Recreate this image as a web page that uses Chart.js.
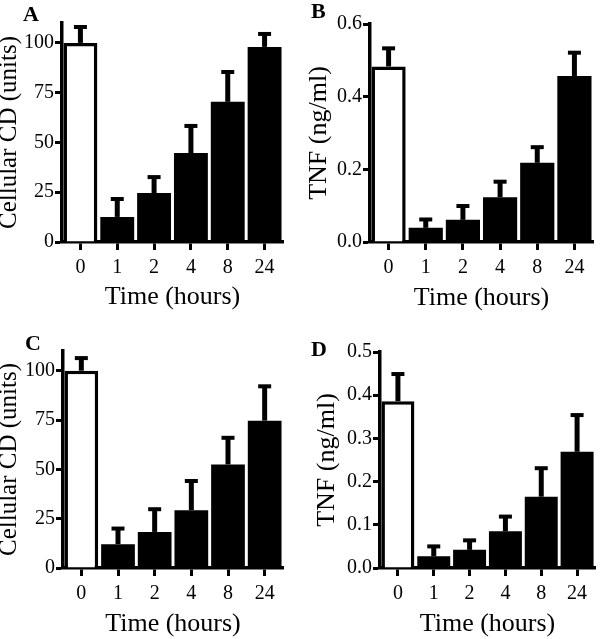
<!DOCTYPE html>
<html>
<head>
<meta charset="utf-8">
<script src="https://cdn.jsdelivr.net/npm/chart.js@4.4.0/dist/chart.umd.min.js"></script>
<style>
  body { margin: 0; background: #fff; }
  .panel { position: absolute; }
  .letter { position: absolute; font-family: 'Liberation Serif', serif; font-weight: bold; font-size: 22px; line-height: 1; color: #000; }
</style>
</head>
<body>
<div class="panel" style="left:0;top:0;width:300px;height:320px"><canvas id="chartA"></canvas></div>
<div class="panel" style="left:300px;top:0;width:300px;height:320px"><canvas id="chartB"></canvas></div>
<div class="panel" style="left:0;top:320px;width:300px;height:319px"><canvas id="chartC"></canvas></div>
<div class="panel" style="left:300px;top:320px;width:300px;height:319px"><canvas id="chartD"></canvas></div>
<div class="letter" style="left:23px;top:3px">A</div>
<div class="letter" style="left:311px;top:0px">B</div>
<div class="letter" style="left:25px;top:332px">C</div>
<div class="letter" style="left:311px;top:338px">D</div>
<script>
// Time points (hours)
const timeLabels = ['0', '1', '2', '4', '8', '24'];

// Panel A: cellular CD (units), mean and upper error
const cdMeanA = [100, 12.6, 24.6, 44.7, 70.4, 98];
const cdErrA = [8, 9, 8, 13.6, 15, 6.5];

// Panel B: TNF (ng/ml)
const tnfMeanB = [0.483, 0.039, 0.061, 0.123, 0.218, 0.457];
const tnfErrB = [0.05, 0.023, 0.038, 0.043, 0.043, 0.064];

// Panel C: cellular CD (units)
const cdMeanC = [100, 12.1, 18.3, 29.3, 52.5, 74.7];
const cdErrC = [6.4, 7.9, 11.5, 14.8, 13.5, 17.4];

// Panel D: TNF (ng/ml)
const tnfMeanD = [0.386, 0.027, 0.042, 0.085, 0.165, 0.269];
const tnfErrD = [0.063, 0.023, 0.022, 0.034, 0.066, 0.085];

// y tick values
const cdTicks = [0, 25, 50, 75, 100];
const tnfTicksB = [0, 0.2, 0.4, 0.6];
const tnfTicksD = [0, 0.1, 0.2, 0.3, 0.4, 0.5];

const serif = "'Liberation Serif', 'Times New Roman', serif";

// draws the upper error bar on each bar
const errorBarPlugin = {
  id: 'errorBars',
  afterDatasetsDraw(chart) {
    const errs = chart.config.options.plugins.errorBars.errors;
    const meta = chart.getDatasetMeta(0);
    const yScale = chart.scales.y;
    const means = chart.data.datasets[0].data;
    const ctx = chart.ctx;
    ctx.save();
    ctx.strokeStyle = '#000';
    meta.data.forEach((bar, i) => {
      const yMean = yScale.getPixelForValue(means[i]);
      const yTop = yScale.getPixelForValue(means[i] + errs[i]);
      ctx.lineWidth = 5;
      ctx.beginPath();
      ctx.moveTo(bar.x, yMean);
      ctx.lineTo(bar.x, yTop);
      ctx.stroke();
      ctx.lineWidth = 4;
      ctx.beginPath();
      ctx.moveTo(bar.x - 6.5, yTop);
      ctx.lineTo(bar.x + 6.5, yTop);
      ctx.stroke();
    });
    ctx.restore();
  }
};

function makePanel(id, p) {
  const ctx = document.getElementById(id).getContext('2d');
  new Chart(ctx, {
    type: 'bar',
    data: {
      labels: timeLabels,
      datasets: [{
        data: p.means,
        backgroundColor: ['#fff', '#000', '#000', '#000', '#000', '#000'],
        borderColor: '#000',
        borderWidth: [3.5, 0, 0, 0, 0, 0],
        categoryPercentage: 1,
        barPercentage: 0.92
      }]
    },
    options: {
      responsive: true,
      maintainAspectRatio: false,
      animation: false,
      layout: { padding: { top: p.top, right: p.right, left: 0, bottom: 0 } },
      scales: {
        x: {
          afterFit: s => { s.height = p.xHeight; },
          grid: { offset: false, drawOnChartArea: false, drawTicks: true, tickLength: 8, tickWidth: 3, color: '#000' },
          border: { display: true, width: 3.5, color: '#000' },
          ticks: { color: '#000', padding: 6, font: { family: serif, size: 20 } },
          title: {
            display: true, text: 'Time (hours)', color: '#000',
            font: { family: serif, size: 26, lineHeight: 1 },
            padding: { top: 0, bottom: p.xTitlePad }
          }
        },
        y: {
          min: 0,
          max: p.max,
          afterFit: s => { s.width = p.yWidth; },
          afterBuildTicks: s => { s.ticks = p.ticks.map(v => ({ value: v })); },
          grid: { drawOnChartArea: false, drawTicks: true, tickLength: 7, tickWidth: 3, color: '#000' },
          border: { display: true, width: 3.5, color: '#000' },
          ticks: {
            color: '#000', padding: 1, font: { family: serif, size: 20 },
            callback: v => p.digits ? Number(v).toFixed(p.digits) : v
          },
          title: {
            display: true, text: p.yTitle, color: '#000',
            font: { family: serif, size: p.yTitleSize, lineHeight: 1 },
            padding: { top: p.yTitlePad, bottom: 0 }
          }
        }
      },
      plugins: {
        legend: { display: false },
        tooltip: { enabled: false },
        errorBars: { errors: p.errs }
      }
    },
    plugins: [errorBarPlugin]
  });
}

makePanel('chartA', {
  means: cdMeanA, errs: cdErrA, max: 110, ticks: cdTicks, digits: 0,
  yTitle: 'Cellular CD (units)', yTitleSize: 25, yTitlePad: -3,
  top: 23, right: 17, yWidth: 62, xHeight: 78, xTitlePad: 10
});
makePanel('chartB', {
  means: tnfMeanB, errs: tnfErrB, max: 0.6, ticks: tnfTicksB, digits: 1,
  yTitle: 'TNF (ng/ml)', yTitleSize: 26, yTitlePad: 6,
  top: 24, right: 7, yWidth: 70, xHeight: 78, xTitlePad: 9
});
makePanel('chartC', {
  means: cdMeanC, errs: cdErrC, max: 110, ticks: cdTicks, digits: 0,
  yTitle: 'Cellular CD (units)', yTitleSize: 25, yTitlePad: -3,
  top: 31, right: 17, yWidth: 63, xHeight: 71, xTitlePad: 2
});
makePanel('chartD', {
  means: tnfMeanD, errs: tnfErrD, max: 0.5, ticks: tnfTicksD, digits: 1,
  yTitle: 'TNF (ng/ml)', yTitleSize: 26, yTitlePad: 14,
  top: 32, right: 5, yWidth: 80, xHeight: 71, xTitlePad: 2
});
</script>
</body>
</html>
